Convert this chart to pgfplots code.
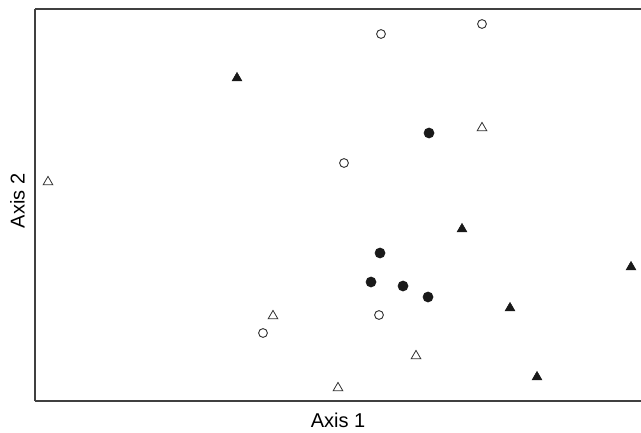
\documentclass[border=0pt]{standalone}
\usepackage{pgfplots}
\pgfplotsset{compat=1.18}
\usepackage{fontspec}
\setmainfont{Liberation Sans}
\begin{document}
\begin{tikzpicture}
\begin{axis}[
  scale only axis,
  width=454.5pt, height=294pt,
  xmin=35, xmax=641, ymin=31, ymax=423,
  axis x line=box, axis y line=left,
  axis line style={draw=black!75, line width=1.5pt, -},
  xtick=\empty, ytick=\empty,
  clip=false,
]
% filled triangles
\addplot[only marks, mark=triangle*, mark size=4.2pt, draw=black!90, fill=black!90] coordinates {
(237,354) (462,203) (631,165) (510,124) (537,55)};
% open triangles
\addplot[only marks, mark=triangle, mark size=4.2pt, draw=black!80, line width=0.6pt] coordinates {
(48,250) (482,304) (273,116) (416,76) (338,44)};
% open circles
\addplot[only marks, mark=o, mark size=3.3pt, draw=black!80, line width=0.7pt] coordinates {
(381,398) (482,408) (344,269) (263,99) (379,117)};
% filled circles
\addplot[only marks, mark=*, mark size=3.8pt, draw=black!90, fill=black!90] coordinates {
(429,299) (380,179) (371,150) (403,146) (428,135)};
\node[font=\fontsize{15}{18}\selectfont, anchor=center, yshift=-14.25pt] at (rel axis cs:0.5,0) {Axis 1};
\node[font=\fontsize{15}{18}\selectfont, anchor=center, xshift=-13.1pt, rotate=90] at (rel axis cs:0,0.51) {Axis 2};
\end{axis}
\pgfresetboundingbox
\path (-26.25pt,-23.25pt) rectangle (454.5pt,300.75pt);
\end{tikzpicture}
\end{document}
